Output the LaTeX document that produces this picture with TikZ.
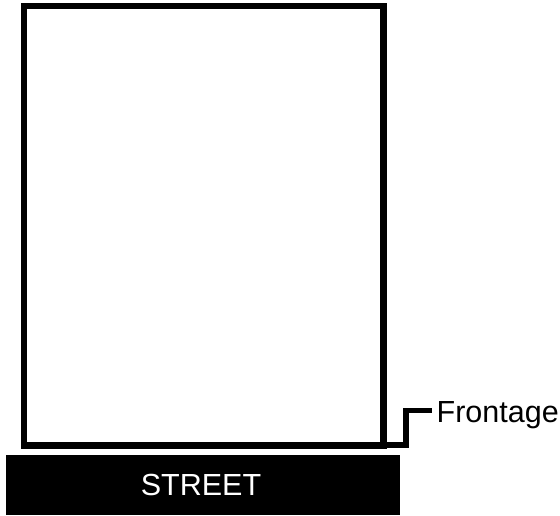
\documentclass[tikz,border=0pt]{standalone}
\usepackage{fontspec}
\setmainfont{Liberation Sans}
\begin{document}
\begin{tikzpicture}[x=1pt,y=1pt,
  lot/.style={draw=black,line width=6.5pt,fill=white},
  bracket/.style={draw=black,line width=5.5pt},
  streetbox/.style={fill=black,draw=none},
  lbl/.style={inner sep=0pt,font=\fontsize{30.5}{31}\selectfont}]
\useasboundingbox (0,0) rectangle (560,515);
\fill[white] (0,0) rectangle (560,515);
\draw[lot] (24,509) rectangle (383.5,69.5);
\coordinate (c0) at (380,70);
\coordinate (c1) at (406,70);
\coordinate (c2) at (406,104.5);
\coordinate (c3) at (432,104.5);
\draw[bracket,line join=miter] (c0) -- (c1) -- (c2) -- (c3);
\fill[streetbox] (6,0) rectangle (400,60);
\node[lbl,text=white,anchor=base] (street) at (201,20) {STREET};
\node[lbl,anchor=base west] (front) at (436.5,93) {Frontage};
\end{tikzpicture}
\end{document}
